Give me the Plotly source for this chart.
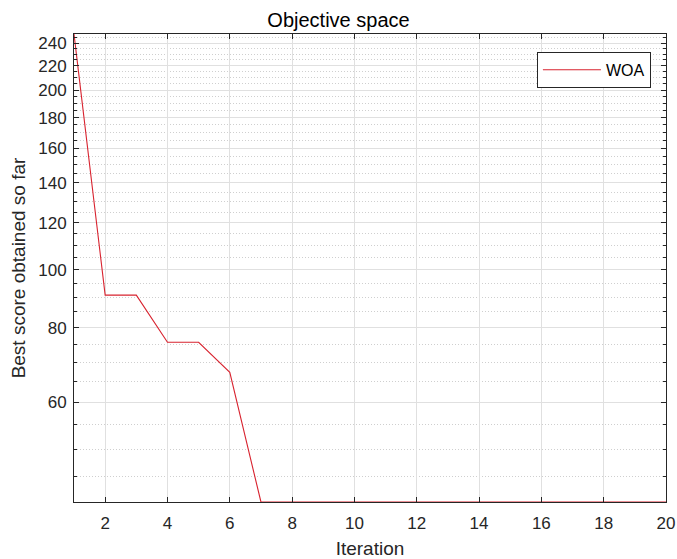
import numpy as np
import plotly.graph_objects as go

iterations = list(range(1, 21))
woa_best = [248.6, 90.7, 90.7, 75.6, 75.6, 67.3] + [40.8] * 14
y_major = [60, 80, 100, 120, 140, 160, 180, 200, 220, 240]
y_minor = [v for v in range(45, 250, 5) if v not in y_major]
x_ticks = list(range(2, 21, 2))

font = "Liberation Sans, Arial, Helvetica, sans-serif"

fig = go.Figure()
fig.add_trace(go.Scatter(x=iterations, y=woa_best, mode="lines", name="WOA",
                         line=dict(color="#d8232f", width=1.1)))

fig.update_layout(
    width=677, height=559,
    margin=dict(l=74, r=11, t=34, b=57),
    paper_bgcolor="white", plot_bgcolor="white",
    title=dict(text="Objective space", x=0.5, xanchor="center", y=1 - 20/559, yanchor="middle",
               font=dict(family=font, size=20, color="black")),
    font=dict(family=font, size=17, color="#262626"),
    showlegend=True,
    legend=dict(x=0.9745, y=0.962, xanchor="right", yanchor="top",
                bordercolor="#262626", borderwidth=1, bgcolor="white",
                font=dict(family=font, size=16, color="black"),
                itemwidth=58, tracegroupgap=0),
)

fig.update_xaxes(
    range=[1, 20], tickvals=x_ticks, ticks="inside", ticklen=5, tickcolor="#262626",
    showline=True, linecolor="#262626", linewidth=1, mirror="ticks",
    showgrid=True, gridcolor="#e0e0e0", gridwidth=1, zeroline=False, automargin=False,
    ticklabelstandoff=6,
    title=dict(text="Iteration", font=dict(family=font, size=19, color="#262626"), standoff=14),
    tickfont=dict(family=font, size=17, color="#262626"),
)

fig.update_yaxes(
    type="log", range=[np.log10(40.8), np.log10(248.6)],
    tickvals=y_major, ticktext=[str(v) for v in y_major],
    ticks="inside", ticklen=5, tickcolor="#262626",
    showline=True, linecolor="#262626", linewidth=1, mirror="ticks",
    showgrid=True, gridcolor="#e0e0e0", gridwidth=1, zeroline=False, automargin=False,
    ticklabelstandoff=3,
    minor=dict(tickmode="array", tickvals=y_minor, ticks="inside", ticklen=3,
               tickcolor="#262626", showgrid=True, gridcolor="#cfcfcf",
               griddash="1px,2px", gridwidth=1),
    title=dict(text="Best score obtained so far", font=dict(family=font, size=19, color="#262626"), standoff=7),
    tickfont=dict(family=font, size=17, color="#262626"),
)

fig.write_html("out.html", config={"displayModeBar": False},
               post_script="document.body.style.margin='0';document.body.style.overflow='hidden';")
